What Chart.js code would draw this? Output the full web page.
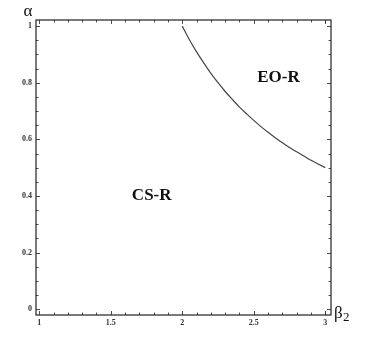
<!DOCTYPE html>
<html>
<head>
<meta charset="utf-8">
<script src="https://cdn.jsdelivr.net/npm/chart.js@4/dist/chart.umd.min.js"></script>
<style>
html,body{margin:0;padding:0;background:#fff;}
canvas{display:block;}
</style>
</head>
<body>
<canvas id="c" width="369" height="344"></canvas>
<script>
// Boundary curve between regions
const beta2 = [2.0, 2.05, 2.1, 2.15, 2.2, 2.25, 2.3, 2.35, 2.4, 2.45, 2.5, 2.55, 2.6, 2.65, 2.7, 2.75, 2.8, 2.85, 2.9, 2.95, 3.0];
const alpha = [1.0, 0.952, 0.909, 0.870, 0.833, 0.80, 0.769, 0.741, 0.714, 0.690, 0.667, 0.645, 0.625, 0.606, 0.588, 0.571, 0.556, 0.541, 0.526, 0.513, 0.50];

const xMajorTicks = [1, 1.5, 2, 2.5, 3];
const xTickLabels = ["1", "1.5", "2", "2.5", "3"];
const xMinorTicks = [1.1, 1.2, 1.3, 1.4, 1.6, 1.7, 1.8, 1.9, 2.1, 2.2, 2.3, 2.4, 2.6, 2.7, 2.8, 2.9, 3.0];
const yMajorTicks = [0, 0.2, 0.4, 0.6, 0.8, 1];
const yTickLabels = ["0", "0.2", "0.4", "0.6", "0.8", "1"];
const yMinorTicks = [0.05, 0.1, 0.15, 0.25, 0.3, 0.35, 0.45, 0.5, 0.55, 0.65, 0.7, 0.75, 0.85, 0.9, 0.95];

const regionLabels = ["CS-R", "EO-R"];
const regionX = [1.786, 2.673];
const regionY = [0.402, 0.819];

const points = beta2.map((b, i) => ({x: b, y: alpha[i]}));

const framePlugin = {
  id: 'frame',
  afterDraw(chart) {
    const ctx = chart.ctx;
    const a = chart.chartArea;
    const xs = chart.scales.x, ys = chart.scales.y;
    ctx.save();
    ctx.strokeStyle = '#222';
    ctx.lineWidth = 1.2;
    ctx.strokeRect(a.left, a.top, a.right - a.left, a.bottom - a.top);
    ctx.lineWidth = 0.8;
    ctx.beginPath();
    const tick = (vals, len) => {
      vals.forEach(v => {
        const px = Math.round(xs.getPixelForValue(v)) + 0.5;
        ctx.moveTo(px, a.bottom); ctx.lineTo(px, a.bottom - len);
        ctx.moveTo(px, a.top); ctx.lineTo(px, a.top + len);
      });
    };
    const ytick = (vals, len) => {
      vals.forEach(v => {
        const py = Math.round(ys.getPixelForValue(v)) + 0.5;
        ctx.moveTo(a.left, py); ctx.lineTo(a.left + len, py);
        ctx.moveTo(a.right, py); ctx.lineTo(a.right - len, py);
      });
    };
    tick(xMajorTicks, 4); tick(xMinorTicks, 2.5);
    ytick(yMajorTicks, 4); ytick(yMinorTicks, 2.5);
    ctx.stroke();

    // region labels
    ctx.fillStyle = '#111';
    ctx.font = 'bold 17px "Liberation Serif", "DejaVu Serif", serif';
    ctx.textAlign = 'center';
    ctx.textBaseline = 'middle';
    regionLabels.forEach((t, i) => {
      ctx.fillText(t, xs.getPixelForValue(regionX[i]), ys.getPixelForValue(regionY[i]));
    });

    // axis titles
    ctx.font = '17px "Liberation Serif", "DejaVu Serif", serif';
    ctx.textAlign = 'center';
    ctx.textBaseline = 'alphabetic';
    ctx.fillText('\u03B1', a.left - 8, a.top - 4);
    ctx.textAlign = 'left';
    ctx.fillText('\u03B2', a.right + 3, a.bottom + 3);
    ctx.font = '13px "Liberation Serif", "DejaVu Serif", serif';
    ctx.fillText('2', a.right + 12, a.bottom + 6);
    ctx.restore();
  }
};

new Chart(document.getElementById('c'), {
  type: 'scatter',
  data: {
    datasets: [{
      data: points,
      showLine: true,
      borderColor: '#444',
      borderWidth: 1.2,
      pointRadius: 0,
      tension: 0.4,
      cubicInterpolationMode: 'monotone',
      fill: false
    }]
  },
  options: {
    responsive: false,
    animation: false,
    events: [],
    layout: {padding: {top: 20, right: 38, left: 0, bottom: 0}},
    plugins: {legend: {display: false}, tooltip: {enabled: false}},
    scales: {
      x: {
        type: 'linear',
        min: 0.977,
        max: 3.04,
        grid: {display: false, drawTicks: false},
        border: {display: false},
        afterBuildTicks(s) { s.ticks = xMajorTicks.map(v => ({value: v})); },
        afterFit(s) { s.height = 29; },
        ticks: {
          padding: 3,
          maxRotation: 0,
          autoSkip: false,
          color: '#333',
          font: {family: '"Liberation Serif", serif', size: 8, weight: 'bold'},
          callback: (v) => xTickLabels[xMajorTicks.indexOf(v)]
        }
      },
      y: {
        type: 'linear',
        min: -0.0205,
        max: 1.0216,
        grid: {display: false, drawTicks: false},
        border: {display: false},
        afterBuildTicks(s) { s.ticks = yMajorTicks.map(v => ({value: v})); },
        afterFit(s) { s.width = 36; },
        ticks: {
          padding: 4,
          autoSkip: false,
          color: '#333',
          font: {family: '"Liberation Serif", serif', size: 8, weight: 'bold'},
          callback: (v) => yTickLabels[yMajorTicks.indexOf(v)]
        }
      }
    }
  },
  plugins: [framePlugin]
});
</script>
</body>
</html>
